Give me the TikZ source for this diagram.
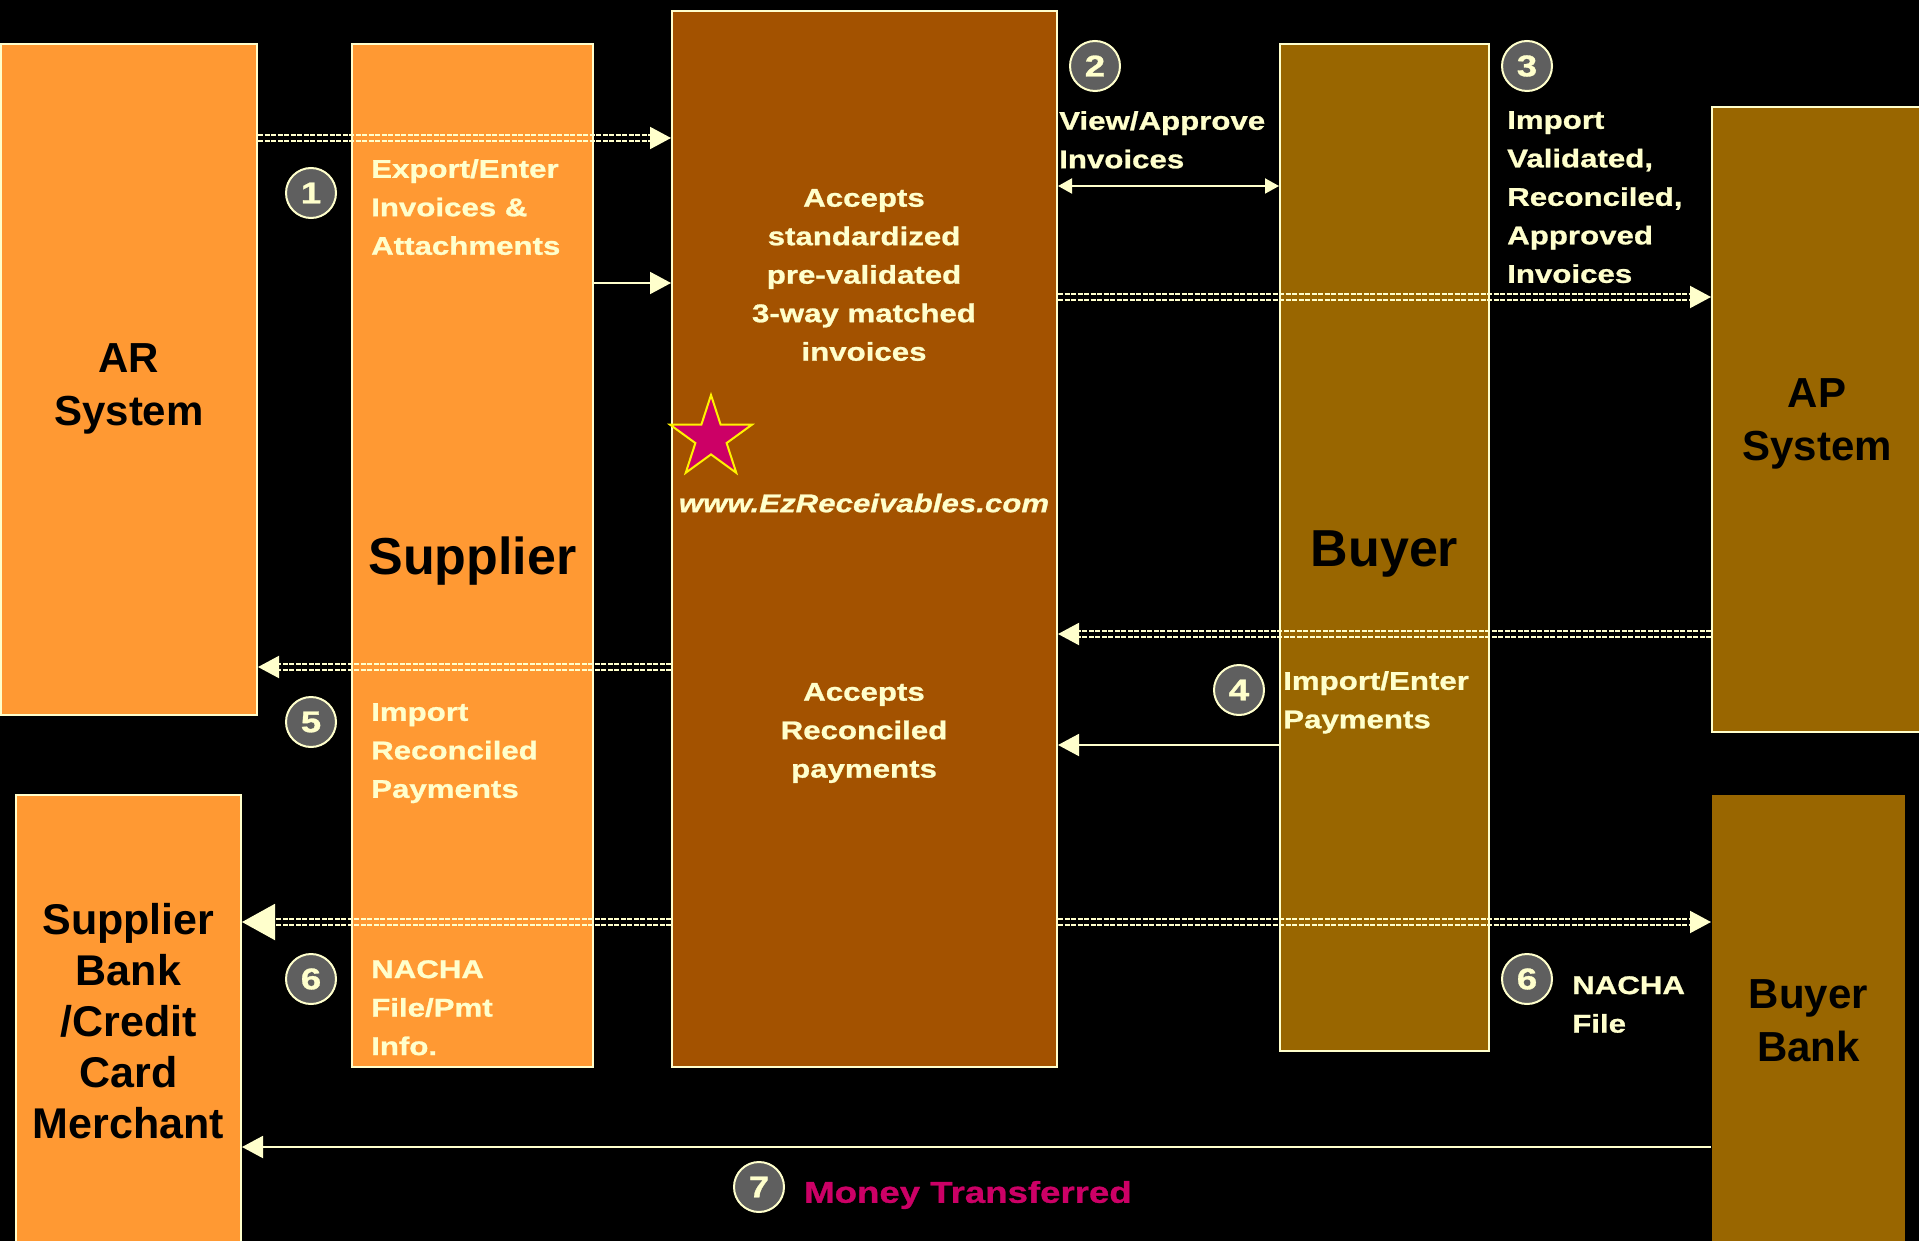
\documentclass[tikz,border=0pt]{standalone}
\usepackage{fontspec}
\setmainfont{Liberation Sans}
\newfontfamily\labelfont{Liberation Sans}[FakeStretch=1.22, FakeBold=1]
\usepackage{xcolor}
\usetikzlibrary{positioning, arrows.meta, shapes.geometric}

\definecolor{cream}{HTML}{FFFFCC}
\definecolor{arorange}{HTML}{FF9933}
\definecolor{hubbrown}{HTML}{A35200}
\definecolor{buyerbrown}{HTML}{996600}
\definecolor{stepgray}{HTML}{5F5F5F}
\definecolor{moneypink}{HTML}{CC0066}

\begin{document}
\begin{tikzpicture}[
    x = 1pt, y = -1pt,
    box/.style = {draw=cream, line width=2pt, anchor=north west, inner sep=0pt},
    sysname/.style = {align=center, inner sep=0pt, font=\bfseries\fontsize{42}{53}\selectfont},
    rolename/.style = {inner sep=0pt, font=\bfseries\fontsize{52}{60}\selectfont},
    note/.style = {text=cream, inner sep=0pt, align=left, anchor=north west,
        font=\labelfont\bfseries\fontsize{25.6}{38.5}\selectfont},
    stepdot/.style = {circle, fill=stepgray, draw=cream, line width=2pt,
        minimum size=50pt, inner sep=0pt, text=cream,
        font=\labelfont\bfseries\fontsize{30}{30}\selectfont},
    flow/.style = {cream, line width=2pt, -{Triangle[length=21pt, width=22pt]}},
    dblflow/.style = {cream, line width=2pt, dash pattern=on 0pt off 3000pt,
        -{Triangle[length=21pt, width=22pt]},
        preaction = {draw=cream, line width=2pt, -, dash pattern=on 5pt off 1.5pt,
            transform canvas={yshift=2.8pt}, shorten >=12pt},
        preaction = {draw=cream, line width=2pt, -, dash pattern=on 5pt off 1.5pt,
            transform canvas={yshift=-2.8pt}, shorten >=12pt}}
  ]
    \fill[black] (0,0) rectangle (1919,1241);
    \useasboundingbox (0,0) rectangle (1919,1241);

    % the boxes
    \node[box, fill=arorange, minimum width=256pt, minimum height=671pt] (ar) at (0,43) {};
    \node[box, fill=arorange, minimum width=241pt, minimum height=1023pt] (supplier) at (351,43) {};
    \node[box, fill=hubbrown, minimum width=385pt, minimum height=1056pt] (hub) at (671,10) {};
    \node[box, fill=buyerbrown, minimum width=209pt, minimum height=1007pt] (buyer) at (1279,43) {};
    \node[box, fill=buyerbrown, minimum width=210pt, minimum height=625pt] (ap) at (1711,106) {};
    \node[box, fill=arorange, minimum width=225pt, minimum height=452pt] (sbank) at (15,794) {};
    \node[box, draw=none, fill=buyerbrown, minimum width=193pt, minimum height=452pt] (bbank) at (1711,794) {};

    % names in the boxes
    \node[sysname] (arname) at ([yshift=-9pt]ar.center) {AR\\System};
    \node[rolename] (suppliername) at ([yshift=-6pt]supplier.center) {Supplier};
    \node[rolename] (buyername) at ([yshift=-7pt]buyer.center) {Buyer};
    \node[sysname] (apname) at ([yshift=-4pt]ap.center) {AP\\System};
    \node[sysname, font=\bfseries\fontsize{43}{51}\selectfont] (sbankname) at (sbank.center) {Supplier\\Bank\\/Credit\\Card\\Merchant};
    \node[sysname] (bbankname) at (bbank.center) {Buyer\\Bank};

    % heights of the connectors
    \coordinate (yexport) at (0,138);
    \coordinate (yview) at (0,186);
    \coordinate (yattach) at (0,283);
    \coordinate (yimport) at (0,297);
    \coordinate (ypayap) at (0,634);
    \coordinate (yrecon) at (0,667);
    \coordinate (ypaybuyer) at (0,745);
    \coordinate (ynacha) at (0,922);
    \coordinate (ymoney) at (0,1147);

    % connectors
    \draw[dblflow] (ar.east |- yexport) -- (hub.west |- yexport);
    \draw[flow] (supplier.east |- yattach) -- (hub.west |- yattach);
    \draw[cream, line width=2pt, {Triangle[length=14pt, width=15pt]}-{Triangle[length=14pt, width=15pt]}]
        (hub.east |- yview) -- (buyer.west |- yview);
    \draw[dblflow] (hub.east |- yimport) -- (ap.west |- yimport);
    \draw[dblflow] (ap.west |- ypayap) -- (hub.east |- ypayap);
    \draw[flow] (buyer.west |- ypaybuyer) -- (hub.east |- ypaybuyer);
    \draw[dblflow] (hub.west |- yrecon) -- (ar.east |- yrecon);
    \draw[dblflow, -{Triangle[length=33pt, width=36pt]}] (hub.west |- ynacha) -- (sbank.east |- ynacha);
    \draw[dblflow] (hub.east |- ynacha) -- (bbank.west |- ynacha);
    \draw[flow] (bbank.west |- ymoney) -- (sbank.east |- ymoney);

    % step numbers
    \node[stepdot] (step1) at (311,193) {1};
    \node[stepdot] (step2) at (1095,66) {2};
    \node[stepdot] (step3) at (1527,66) {3};
    \node[stepdot] (step4) at (1239,690) {4};
    \node[stepdot] (step5) at (311,722) {5};
    \node[stepdot] (step6) at (311,979) {6};
    \node[stepdot] (step6b) at (1527,979) {6};
    \node[stepdot] (step7) at (759,1187) {7};

    % texts
    \node[note] (exportnote) at (371,159) {Export/Enter\\Invoices \&\\Attachments};
    \node[note] (viewnote) at (1059,111) {View/Approve\\Invoices};
    \node[note] (importnote) at (1507,111) {Import\\Validated,\\Reconciled,\\Approved\\Invoices};
    \node[note] (enternote) at (1283,671) {Import/Enter\\Payments};
    \node[note] (reconnote) at (371,703) {Import\\Reconciled\\Payments};
    \node[note] (nachanote) at (371,960) {NACHA\\File/Pmt\\Info.};
    \node[note] (bnachanote) at (1572,976) {NACHA\\File};
    \node[note, align=center, anchor=center] (hubtop) at (864,275) {Accepts\\standardized\\pre-validated\\3-way matched\\invoices};
    \node[note, align=center, anchor=center] (hubbottom) at (864,733) {Accepts\\Reconciled\\payments};
    \node[star, star points=5, star point ratio=2.62, minimum size=86pt, inner sep=0pt,
        fill=moneypink, draw=yellow, line width=2pt] (star) at (711,438) {};
    \node[note, anchor=center, font=\labelfont\bfseries\itshape\fontsize{25.6}{30}\selectfont] (url) at (864,503) {www.EzReceivables.com};
    \node[note, anchor=west, text=moneypink, font=\labelfont\bfseries\fontsize{30}{36}\selectfont] (moneynote) at (804,1195) {Money Transferred};
\end{tikzpicture}
\end{document}
